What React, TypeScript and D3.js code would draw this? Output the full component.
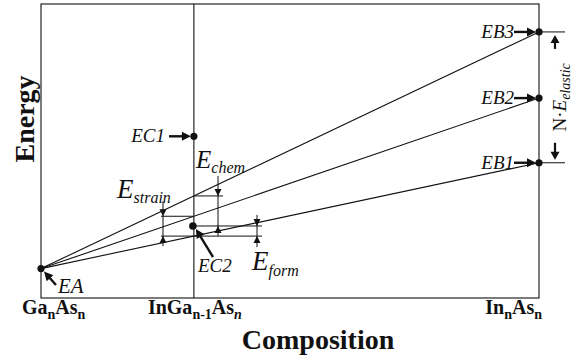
import * as d3 from "d3";

// ---------------------------------------------------------------------------
// Data (arbitrary energy units, composition = In fraction)
// ---------------------------------------------------------------------------

const compositionValues = [0, 0.307, 1];
const compositionLabels = [
  [{ t: "Ga" }, { t: "n", sub: true }, { t: "As" }, { t: "n", sub: true }],
  [{ t: "InGa" }, { t: "n-1", sub: true }, { t: "As" }, { t: "n", sub: true, italic: true }],
  [{ t: "In" }, { t: "n", sub: true }, { t: "As" }, { t: "n", sub: true }],
];

const alloyName = "EA";
const alloyEnergy = 1.0;
const bulkNames = ["EB1", "EB2", "EB3"];
const bulkEnergies = [4.6, 6.8, 9.05];
const clusterNames = ["EC1", "EC2"];
const clusterEnergies = [5.5, 2.45];

// ---------------------------------------------------------------------------
// Layout
// ---------------------------------------------------------------------------

const W = 581;
const H = 358;
const FRAME = { left: 41, right: 539, top: 4, bottom: 298 };
const SERIF = "Liberation Serif";
const INK = "#111";

const x = d3.scaleLinear().domain([0, 1]).range([FRAME.left, FRAME.right]);
const y = d3.scaleLinear().domain([0, 10]).range([FRAME.bottom, FRAME.top]);

function Arrow({ x1, y1, x2, y2, len = 9, half = 4.5, sw = 2.4 }: any) {
  const a = Math.atan2(y2 - y1, x2 - x1);
  const bx = x2 - len * Math.cos(a);
  const by = y2 - len * Math.sin(a);
  const px = -Math.sin(a) * half;
  const py = Math.cos(a) * half;
  return (
    <g>
      <line x1={x1} y1={y1} x2={bx + Math.cos(a)} y2={by + Math.sin(a)} stroke={INK} strokeWidth={sw} />
      <polygon
        points={`${x2},${y2} ${bx + px},${by + py} ${bx - px},${by - py}`}
        fill={INK}
      />
    </g>
  );
}

function Tip({ cx, cy, dir }: { cx: number; cy: number; dir: 1 | -1 }) {
  // small filled arrowhead for the dimension lines; dir=1 points down
  const l = 7;
  const h = 3.5;
  return (
    <polygon
      points={`${cx},${cy} ${cx - h},${cy - dir * l} ${cx + h},${cy - dir * l}`}
      fill={INK}
    />
  );
}

const txt = { fontFamily: SERIF, fill: INK } as const;

export default function App() {
  const x0 = x(compositionValues[0]);
  const xMid = x(compositionValues[1]);
  const x1 = x(compositionValues[2]);
  const cMid = compositionValues[1];

  const yEA = y(alloyEnergy);
  const yB = bulkEnergies.map((e) => y(e));
  const yLineMid = bulkEnergies.map((e) => y(alloyEnergy + (e - alloyEnergy) * cMid));
  const [botY, midY, topY] = yLineMid;
  const yC1 = y(clusterEnergies[0]);
  const yC2 = y(clusterEnergies[1]);

  const tickAnchor = ["start", "middle", "end"];
  const tickX = [x0 - 19, xMid + 1, x1 + 3];

  return (
    <svg
      width={W}
      height={H}
      style={{ position: "absolute", left: 0, top: 0, background: "#fff" }}
    >
      {/* Frame and middle composition line */}
      <rect
        x={FRAME.left}
        y={FRAME.top}
        width={FRAME.right - FRAME.left}
        height={FRAME.bottom - FRAME.top}
        fill="none"
        stroke={INK}
        strokeWidth={1.1}
      />
      <line x1={xMid} x2={xMid} y1={FRAME.top} y2={FRAME.bottom} stroke={INK} strokeWidth={1.1} />

      {/* Lines EA -> EB */}
      {yB.map((yb, i) => (
        <line key={i} x1={x0} y1={yEA} x2={x1} y2={yb} stroke={INK} strokeWidth={1.1} />
      ))}

      {/* Dimension: E_strain */}
      <line x1={161} x2={xMid} y1={midY} y2={midY} stroke={INK} strokeWidth={1} />
      <line x1={161} x2={262} y1={botY} y2={botY} stroke={INK} strokeWidth={1} />
      <line x1={163} x2={163} y1={midY - 15} y2={botY + 10} stroke={INK} strokeWidth={1} />
      <Tip cx={163} cy={midY} dir={1} />
      <Tip cx={163} cy={botY} dir={-1} />

      {/* Dimension: E_chem */}
      <line x1={xMid} x2={223} y1={topY} y2={topY} stroke={INK} strokeWidth={1} />
      <line x1={xMid} x2={262} y1={yC2} y2={yC2} stroke={INK} strokeWidth={1} />
      <line x1={218} x2={218} y1={topY - 20} y2={botY} stroke={INK} strokeWidth={1} />
      <Tip cx={218} cy={topY} dir={1} />
      <Tip cx={218} cy={yC2} dir={-1} />

      {/* Dimension: E_form */}
      <line x1={257} x2={257} y1={yC2 - 11} y2={botY + 11} stroke={INK} strokeWidth={1} />
      <Tip cx={257} cy={yC2} dir={1} />
      <Tip cx={257} cy={botY} dir={-1} />

      {/* Dimension: N·E_elastic */}
      <line x1={x1} x2={565} y1={yB[2]} y2={yB[2]} stroke={INK} strokeWidth={1} />
      <line x1={x1} x2={565} y1={yB[0]} y2={yB[0]} stroke={INK} strokeWidth={1} />
      <Arrow x1={555} y1={yB[2] + 17} x2={555} y2={yB[2] + 3} len={8} half={4.5} sw={2.2} />
      <Arrow x1={555} y1={yB[0] - 20} x2={555} y2={yB[0] - 3} len={8} half={4.5} sw={2.2} />
      <text
        transform={`translate(566,${(yB[2] + yB[0]) / 2}) rotate(-90)`}
        textAnchor="middle"
        fontSize={19}
        style={txt}
      >
        N·<tspan fontStyle="italic">E</tspan>
        <tspan fontStyle="italic" fontSize={14} dy={4}>elastic</tspan>
      </text>

      {/* Points */}
      <circle cx={x0} cy={yEA} r={3.6} fill={INK} />
      {yB.map((yb, i) => (
        <circle key={i} cx={x1} cy={yb} r={3.6} fill={INK} />
      ))}
      <circle cx={xMid} cy={yC1} r={3.6} fill={INK} />
      <circle cx={xMid - 1} cy={yC2} r={3.8} fill={INK} />

      {/* Point labels with arrows */}
      {yB.map((yb, i) => (
        <g key={i}>
          <text x={514} y={yb + 6} textAnchor="end" fontSize={19} fontStyle="italic" style={txt}>
            {bulkNames[i]}
          </text>
          <Arrow x1={514} y1={yb} x2={x1 - 3} y2={yb} />
        </g>
      ))}
      <text x={165} y={yC1 + 6} textAnchor="end" fontSize={19} fontStyle="italic" style={txt}>
        {clusterNames[0]}
      </text>
      <Arrow x1={169} y1={yC1} x2={xMid - 3} y2={yC1} />

      <Arrow x1={213} y1={257} x2={xMid + 2} y2={yC2 + 3} />
      <text x={198} y={272} fontSize={19} fontStyle="italic" style={txt}>
        {clusterNames[1]}
      </text>

      <Arrow x1={56} y1={285} x2={x0 + 3} y2={yEA + 3} />
      <text x={58} y={293} fontSize={21} fontStyle="italic" style={txt}>
        {alloyName}
      </text>

      {/* Energy term labels */}
      <text x={117} y={198} fontSize={27} fontStyle="italic" style={txt}>
        E<tspan fontSize={16} dy={5}>strain</tspan>
      </text>
      <text x={196} y={168} fontSize={25} fontStyle="italic" style={txt}>
        E<tspan fontSize={16} dy={5}>chem</tspan>
      </text>
      <text x={252} y={270} fontSize={27} fontStyle="italic" style={txt}>
        E<tspan fontSize={16} dy={6}>form</tspan>
      </text>

      {/* Composition tick labels */}
      {compositionLabels.map((parts, i) => (
        <text
          key={i}
          x={tickX[i]}
          y={314}
          textAnchor={tickAnchor[i]}
          fontSize={20}
          fontWeight="bold"
          style={txt}
        >
          {parts.map((p: any, j: number) => {
            const prevSub = j > 0 && (parts[j - 1] as any).sub;
            const dy = p.sub ? (prevSub ? 0 : 5) : prevSub ? -5 : 0;
            return (
              <tspan
                key={j}
                fontSize={p.sub ? 14 : 20}
                fontStyle={p.italic ? "italic" : undefined}
                dy={dy}
              >
                {p.t}
              </tspan>
            );
          })}
        </text>
      ))}

      {/* Axis titles */}
      <text
        transform={`translate(34,119) rotate(-90)`}
        textAnchor="middle"
        fontSize={28}
        fontWeight="bold"
        style={txt}
      >
        Energy
      </text>
      <text x={318} y={349} textAnchor="middle" fontSize={28} fontWeight="bold" style={txt}>
        Composition
      </text>
    </svg>
  );
}
